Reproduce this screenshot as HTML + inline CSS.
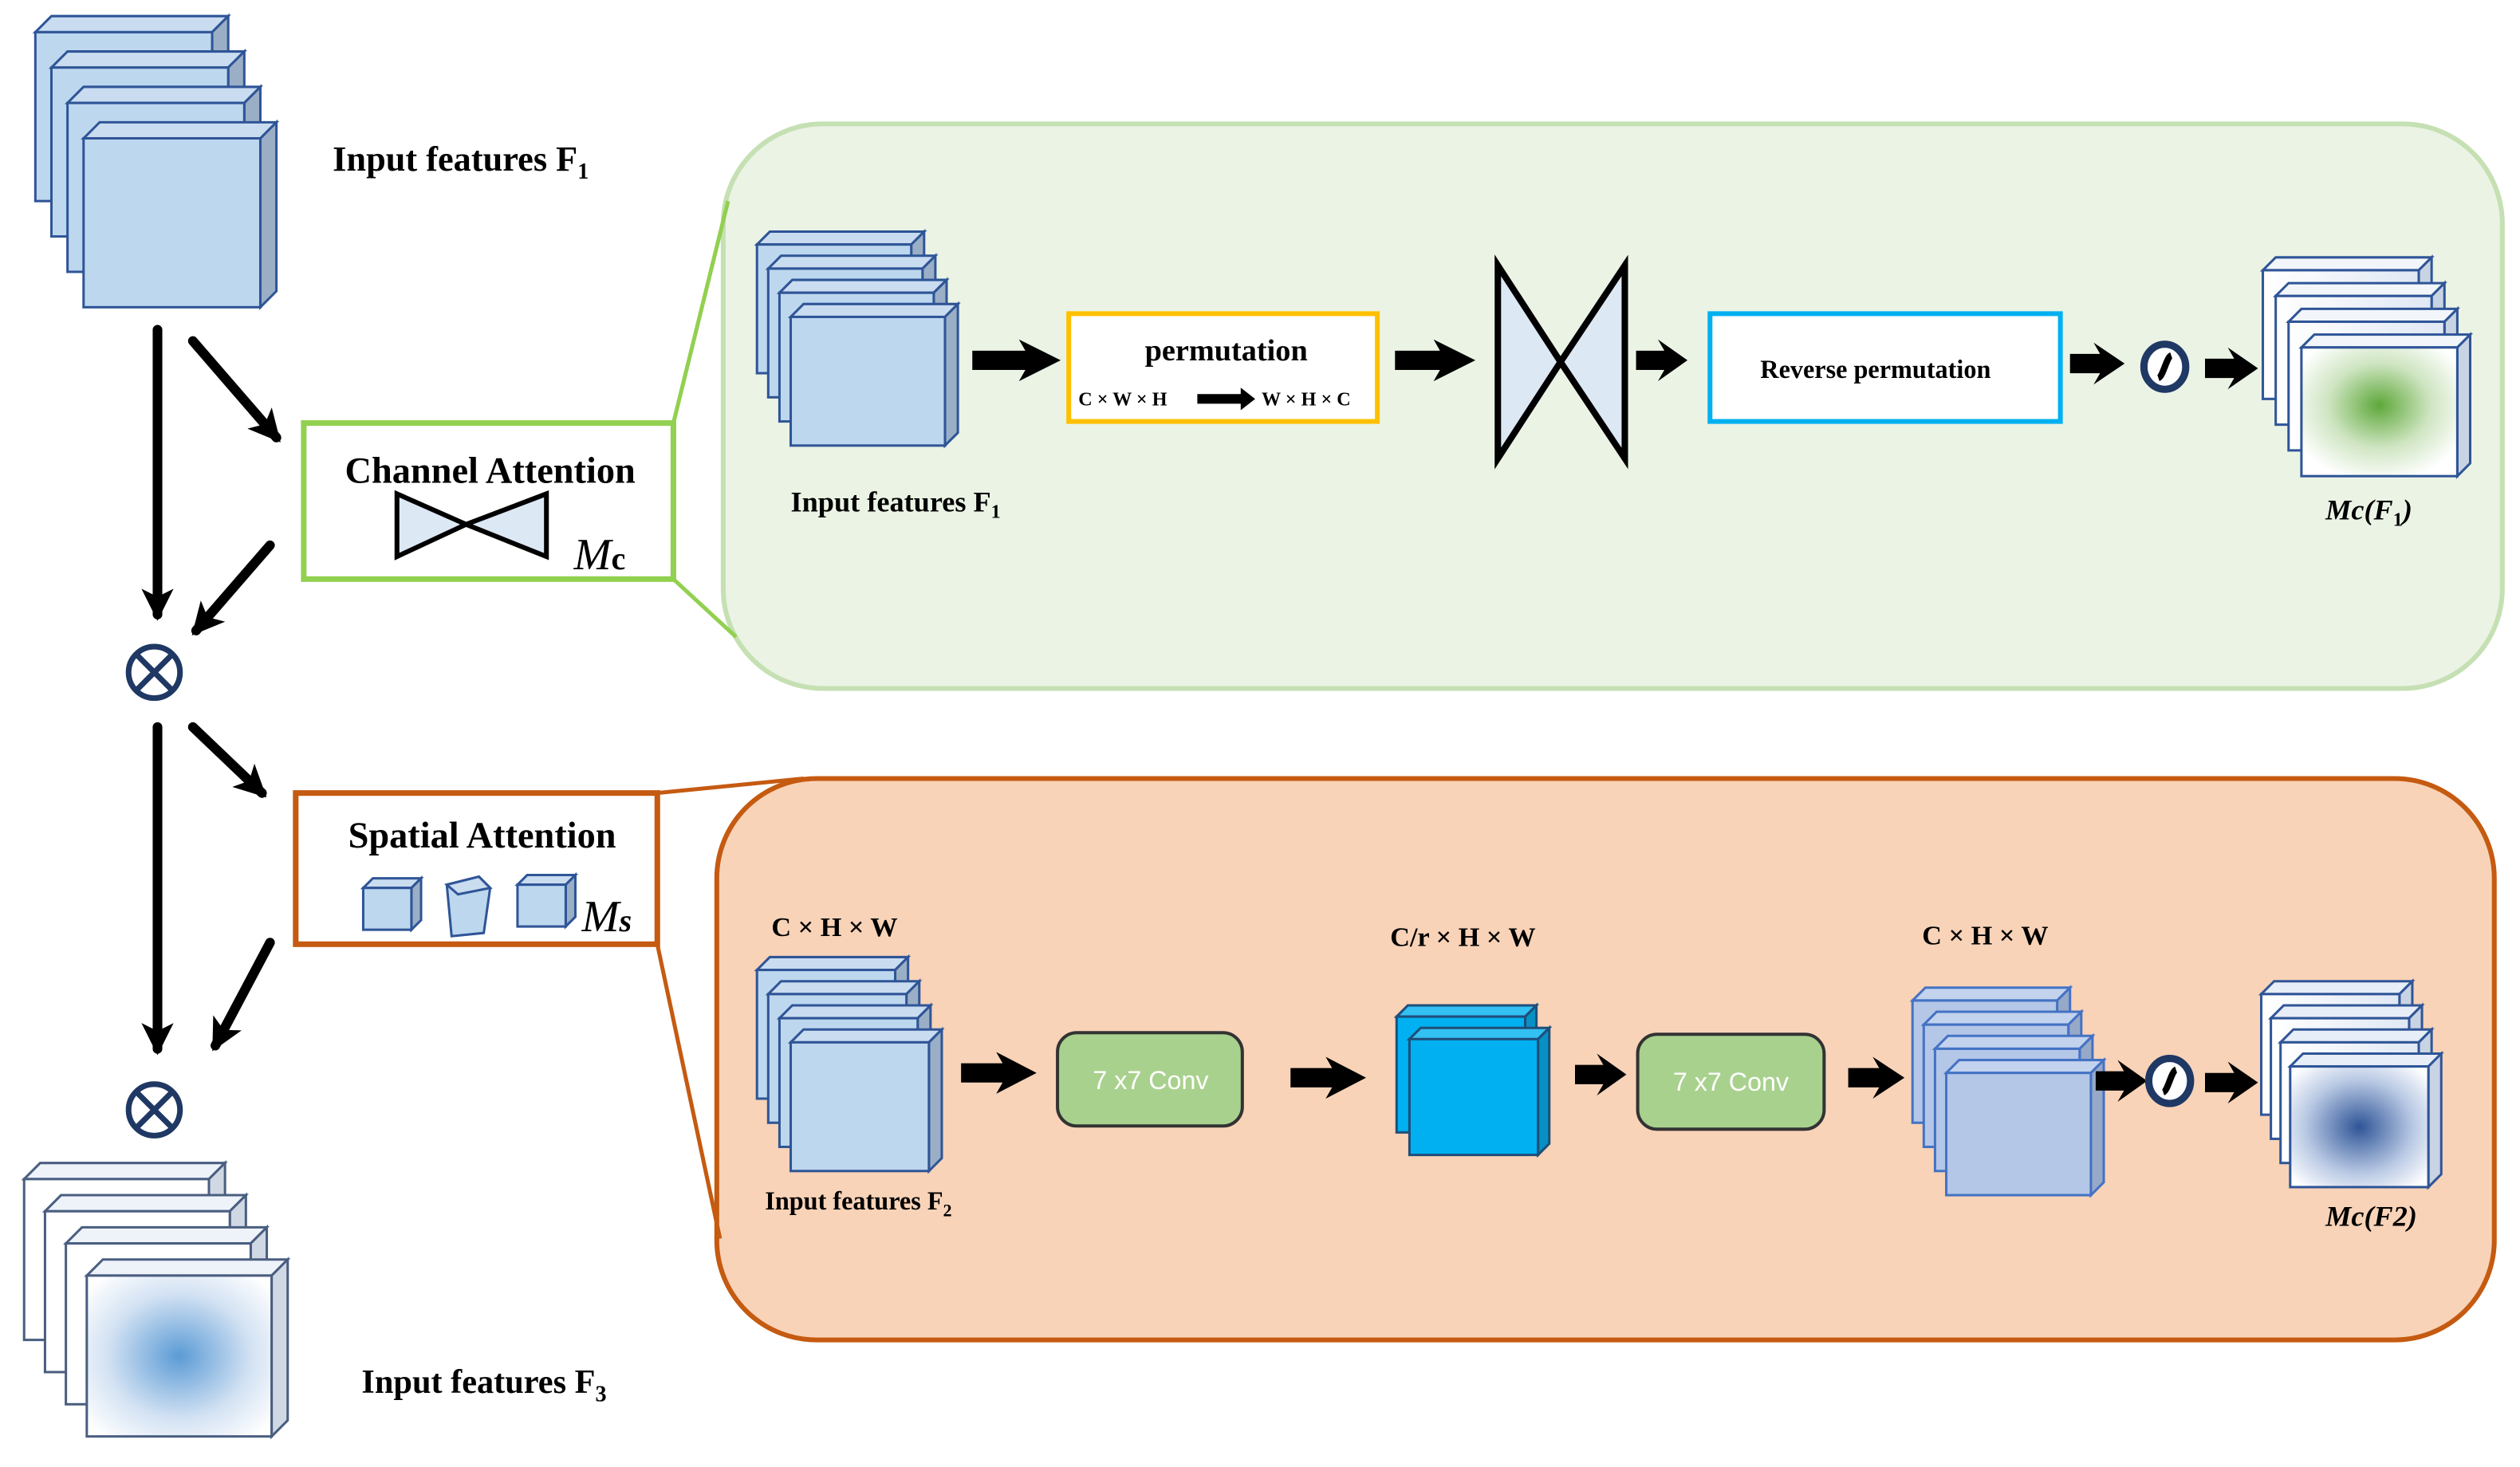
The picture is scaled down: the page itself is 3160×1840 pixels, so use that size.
<!DOCTYPE html>
<html><head><meta charset="utf-8"><style>
html,body{margin:0;padding:0;background:#fff;}
svg{display:block;}
text{font-family:"Liberation Serif",serif;}
</style></head><body>
<svg id="s" width="3160" height="1840" viewBox="0 0 1568 912" preserveAspectRatio="none" xmlns="http://www.w3.org/2000/svg">
<defs>
<radialGradient id="gg" cx="0.5" cy="0.45" r="0.6"><stop offset="0" stop-color="#5ea83a"/><stop offset="0.55" stop-color="#cfe5c2"/><stop offset="1" stop-color="#ffffff"/></radialGradient>
<radialGradient id="bg" cx="0.5" cy="0.5" r="0.65"><stop offset="0" stop-color="#2f5597"/><stop offset="0.6" stop-color="#b9c9e4"/><stop offset="1" stop-color="#ffffff"/></radialGradient>
<radialGradient id="bg3" cx="0.5" cy="0.5" r="0.65"><stop offset="0" stop-color="#5b9bd5"/><stop offset="0.6" stop-color="#d3e2f3"/><stop offset="1" stop-color="#ffffff"/></radialGradient>
<linearGradient id="wb" x1="0" y1="0" x2="1" y2="0"><stop offset="0" stop-color="#ffffff"/><stop offset="1" stop-color="#e0e8f4"/></linearGradient>
<marker id="ah" markerUnits="userSpaceOnUse" markerWidth="30" markerHeight="30" refX="16" refY="10" orient="auto"><path d="M0,0 L20,10 L0,20 L5,10 Z" fill="#000"/></marker>
</defs>

<rect x="450" y="77" width="1107" height="351" rx="62" fill="#ebf3e5" stroke="#c5e0b3" stroke-width="3"/>
<line x1="419" y1="263" x2="453" y2="125" stroke="#92d050" stroke-width="2.5"/>
<line x1="419" y1="360" x2="458" y2="396" stroke="#92d050" stroke-width="2.5"/>
<rect x="446" y="484" width="1106" height="349" rx="62" fill="#f8d3b8" stroke="#c55a11" stroke-width="3"/>
<line x1="409" y1="493" x2="500" y2="484" stroke="#c55a11" stroke-width="2.5"/>
<line x1="409" y1="587" x2="448" y2="770" stroke="#c55a11" stroke-width="2.5"/>

<rect x="189" y="263" width="230" height="97" fill="#fff" stroke="#92d050" stroke-width="3.5"/>
<text x="305" y="300" font-size="23" font-weight="bold" text-anchor="middle">Channel Attention</text>
<polygon points="247,307 290,326 247,346" fill="#dde8f5" stroke="#000" stroke-width="3"/>
<polygon points="340,307 290,326 340,346" fill="#dde8f5" stroke="#000" stroke-width="3"/>
<text x="357" y="354" font-size="28" font-style="italic">M<tspan font-size="20" font-style="normal" font-weight="bold">c</tspan></text>

<rect x="184" y="493" width="225" height="94" fill="#fff" stroke="#c55a11" stroke-width="3.5"/>
<text x="300" y="527" font-size="23" font-weight="bold" text-anchor="middle">Spatial Attention</text>
<text x="362" y="579" font-size="28" font-style="italic">M<tspan font-size="20" font-weight="bold">s</tspan></text>

<g stroke="#000" stroke-width="6" stroke-linecap="round" marker-end="url(#ah)">
<line x1="98" y1="205" x2="98" y2="382"/>
<line x1="120" y1="212" x2="172" y2="272"/>
<line x1="168" y1="339" x2="122" y2="392"/>
<line x1="98" y1="452" x2="98" y2="652"/>
<line x1="120" y1="452" x2="163" y2="493"/>
<line x1="168" y1="586" x2="134" y2="650"/>
</g>
<g fill="none" stroke="#1f3864" stroke-width="3.5">
<circle cx="96" cy="418" r="16"/><line x1="85" y1="407" x2="107" y2="429"/><line x1="107" y1="407" x2="85" y2="429"/>
<circle cx="96" cy="690" r="16"/><line x1="85" y1="679" x2="107" y2="701"/><line x1="107" y1="679" x2="85" y2="701"/>
</g>

<text x="207" y="106" font-size="22" font-weight="bold">Input features F<tspan font-size="14" dy="5">1</tspan></text>
<text x="225" y="866" font-size="21" font-weight="bold">Input features F<tspan font-size="14" dy="5">3</tspan></text>

<text x="492" y="318" font-size="18" font-weight="bold">Input features F<tspan font-size="12" dy="4">1</tspan></text>
<rect x="665" y="195" width="192" height="67" fill="#fff" stroke="#ffc000" stroke-width="3"/>
<text x="763" y="224" font-size="19" font-weight="bold" text-anchor="middle">permutation</text>
<text x="671" y="252" font-size="12" font-weight="bold">C × W × H</text>
<text x="785" y="252" font-size="12" font-weight="bold">W × H × C</text>
<polygon points="745,245 772,245 772,241 781,248 772,255 772,251 745,251" fill="#000"/>
<polygon points="932,165 971,225 932,285" fill="#dde8f5" stroke="#000" stroke-width="4"/>
<polygon points="1011,165 971,225 1011,285" fill="#dde8f5" stroke="#000" stroke-width="4"/>
<rect x="1064" y="195" width="218" height="67" fill="#fff" stroke="#00b0f0" stroke-width="3"/>
<text x="1167" y="235" font-size="16" font-weight="bold" text-anchor="middle">Reverse permutation</text>
<text x="1447" y="323" font-size="18" font-weight="bold" font-style="italic">Mc(F<tspan font-size="12" dy="4" font-style="normal">1</tspan><tspan dy="-4">)</tspan></text>

<text x="480" y="582" font-size="17" font-weight="bold">C × H × W</text>
<text x="476" y="752" font-size="16" font-weight="bold">Input features F<tspan font-size="11" dy="4">2</tspan></text>
<rect x="658" y="642" width="115" height="58" rx="12" fill="#a9d18e" stroke="#333" stroke-width="2"/>
<text x="716" y="677" font-size="16" fill="#fff" text-anchor="middle" style="font-family:'Liberation Sans',sans-serif">7 x7 Conv</text>
<text x="865" y="588" font-size="17" font-weight="bold">C/r × H × W</text>
<rect x="1019" y="643" width="116" height="59" rx="12" fill="#a9d18e" stroke="#333" stroke-width="2"/>
<text x="1077" y="678" font-size="16" fill="#fff" text-anchor="middle" style="font-family:'Liberation Sans',sans-serif">7 x7 Conv</text>
<text x="1196" y="587" font-size="17" font-weight="bold">C × H × W</text>
<text x="1447" y="762" font-size="18" font-weight="bold" font-style="italic">Mc(F2)</text>
<g id="dyn"></g>
</svg>
<script>
var out='';
function sheet(x,y,w,h,d,fill,top,side,stroke){
 out+='<polygon points="'+x+','+y+' '+(x+d)+','+(y-d)+' '+(x+w+d)+','+(y-d)+' '+(x+w)+','+y+'" fill="'+top+'" stroke="'+stroke+'" stroke-width="1.5"/>';
 out+='<polygon points="'+(x+w)+','+y+' '+(x+w+d)+','+(y-d)+' '+(x+w+d)+','+(y+h-d)+' '+(x+w)+','+(y+h)+'" fill="'+side+'" stroke="'+stroke+'" stroke-width="1.5"/>';
 out+='<rect x="'+x+'" y="'+y+'" width="'+w+'" height="'+h+'" fill="'+fill+'" stroke="'+stroke+'" stroke-width="1.5"/>';
}
function stack(x,y,w,h,d,dx,dy,n,fill,top,side,stroke,lastFill){
 for(var i=0;i<n;i++) sheet(x+dx*i,y+dy*i,w,h,d,(i==n-1&&lastFill)?lastFill:fill,top,side,stroke);
}
function barrow(x1,x2,y,sh,hh){
 var hl=Math.min(22,(x2-x1)*0.45);
 out+='<polygon points="'+x1+','+(y-sh)+' '+(x2-hl)+','+(y-sh)+' '+(x2-hl-4)+','+(y-hh)+' '+x2+','+y+' '+(x2-hl-4)+','+(y+hh)+' '+(x2-hl)+','+(y+sh)+' '+x1+','+(y+sh)+'" fill="#000"/>';
}
function sig(cx,cy){
 out+='<ellipse cx="'+cx+'" cy="'+cy+'" rx="13" ry="14" fill="#fff" stroke="#1f3864" stroke-width="4.5"/>';
 out+='<path d="M'+(cx-4)+','+(cy+7)+' C'+(cx-1)+','+(cy+6)+' '+(cx+1)+','+(cy-6)+' '+(cx+4)+','+(cy-7)+'" stroke="#000" stroke-width="4" fill="none"/>';
}
var B='#bdd7ee',BT='#c9dcf0',BS='#9aafc6',BK='#2f5597';
stack(22,20,110,105,10,10,22,4,B,BT,BS,BK);
stack(471,152,96,80,8,7,15,4,B,BT,BS,BK);
stack(1408,168,97,80,8,8,16,4,'url(#wb)','#f2f6fb','#c8d3e3',BK,'url(#gg)');
stack(471,603,86,80,8,7,15,4,B,BT,BS,BK);
stack(869,632,80,72,7,8,14,2,'#00b0f0','#33c0f2','#0790c4','#1f4e79');
stack(1190,622,90,76,8,7,15,4,'#b4c7e7','#c3d3ee','#97a9c8','#4472c4');
stack(1407,618,86,75,8,6,15,4,'url(#wb)','#e8eef7','#c8d3e3',BK,'url(#bg)');
stack(15,733,115,100,10,13,20,4,'#fff','#eef3fa','#d0d8e4','#4a5e80','url(#bg3)');
sheet(226,552,30,26,6,B,BT,BS,BK);
sheet(322,550,30,26,6,B,BT,BS,BK);
out+='<polygon points="278,550 298,545 305,552 301,580 281,582" fill="'+B+'" stroke="'+BK+'" stroke-width="1.5"/>';
out+='<polygon points="278,550 298,545 305,552 285,556" fill="'+BT+'" stroke="'+BK+'" stroke-width="1.5"/>';
barrow(605,660,224,6,13);
barrow(868,918,224,6,13);
barrow(1018,1050,224,6,13);
barrow(1288,1322,226,6,13);
barrow(1372,1405,229,6,13);
sig(1347,228);
barrow(598,645,667,6,13);
barrow(803,850,670,6,13);
barrow(980,1012,668,6,13);
barrow(1150,1185,670,6,13);
barrow(1304,1336,672,6,13);
barrow(1372,1405,673,6,13);
sig(1350,672);
document.getElementById('dyn').innerHTML=out;
</script>
</body></html>
